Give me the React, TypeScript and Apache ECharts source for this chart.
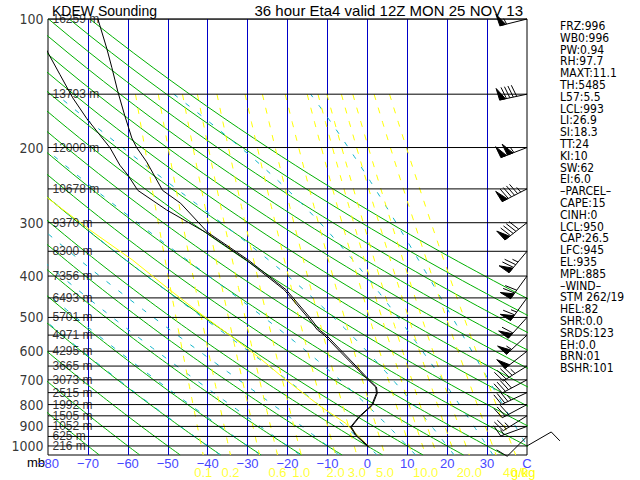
import React, { useEffect, useRef } from "react";
import * as echarts from "echarts";

// ---------- data ----------
const PRESSURE_LABELS = [100, 200, 300, 400, 500, 600, 700, 800, 900, 1000];
const LEVELS = [100, 150, 200, 250, 300, 350, 400, 450, 500, 550, 600, 650, 700, 750, 800, 850, 900, 950, 1000];
const HEIGHTS = [16259, 13793, 12000, 10678, 9370, 8300, 7356, 6493, 5701, 4971, 4295, 3665, 3073, 2515, 1992, 1505, 1052, 625, 216];

const TEMP_P = [100, 117, 130, 148, 168, 190, 200, 216, 252, 270, 316, 367, 431, 499, 535, 550, 619, 693, 728, 752, 802, 856, 903, 943, 1006];
const TEMP_C = [-67.5, -65.3, -64, -62.5, -60.8, -59, -57.8, -55.3, -51.3, -46.8, -40, -29.8, -20.3, -14.5, -12, -10.3, -5, 0, 2.3, 2.5, 1.3, -2, -4, -2.8, 0.5];

const DEW_P = [100, 120, 135, 153, 171, 187, 200, 220, 232, 252, 280, 316, 367, 431, 499, 535, 550, 619, 693, 728, 752, 802, 856, 903, 943, 1006];
const DEW_C = [-84.5, -80, -77, -73.8, -70.3, -67, -64.5, -62, -60, -57.5, -50.3, -40.5, -30.3, -20.8, -15, -12.5, -10.8, -5.5, -0.3, 2.1, 2.3, 1.1, -2.2, -4.2, -3, 0.3];

const PARCEL_P = [240, 263, 312, 367, 431, 494, 556, 622, 693, 772, 811, 884, 984, 1006];
const PARCEL_C = [-84, -80, -69.5, -58.8, -49.5, -41.3, -33.8, -27, -21, -14.5, -11.5, -5.5, -0.5, 0.5];

const WIND_P = [100, 150, 200, 250, 300, 350, 400, 450, 500, 550, 600, 650, 700, 750, 800, 850, 900, 950, 1000];
const WIND_DIR = [256, 258, 249, 243, 232, 220, 216, 216, 222, 227, 232, 238, 242, 245, 242, 238, 250, 225, 60];
const WIND_SPD = [55, 90, 105, 95, 90, 75, 70, 65, 60, 55, 50, 45, 40, 35, 30, 25, 15, 10, 10];

const DRY_THETA_C = [-70, -60, -50, -40, -30, -20, -10, 0, 10, 20, 30, 40, 50, 60, 70, 80, 90, 100, 110, 120];
const MOIST_THETAW_C = [-40, -30, -20, -10, 0, 10, 20, 30, 40];
const MIXING_RATIOS = [0.1, 0.2, 0.4, 0.6, 1, 2, 3, 5, 8, 10, 12, 16, 20, 30, 40];
const MIXING_LABELS = [0.1, 0.2, 0.6, 1, 2, 3, 5, 10, 20, 40];

const STATS = [
  "FRZ:996", "WB0:996", "PW:0.94", "RH:97.7", "MAXT:11.1", "TH:5485", "L57:5.5", "LCL:993",
  "LI:26.9", "SI:18.3", "TT:24", "KI:10", "SW:62", "EI:6.0", "\u2013PARCEL\u2013", "CAPE:15",
  "CINH:0", "LCL:950", "CAP:26.5", "LFC:945", "EL:935", "MPL:885", "\u2013WIND\u2013", "STM 262/19",
  "HEL:82", "SHR:0.0", "SRDS:123", "EH:0.0", "BRN:01", "BSHR:101",
];
const TITLE_LEFT = "KDEW Sounding";
const TITLE_RIGHT = "36 hour Eta4 valid 12Z MON 25 NOV 13";

// ---------- thermodynamic reference lines ----------
const dryAdiabat = (thetaC: number) => {
  const pts: number[][] = [];
  for (let p = 100; p <= 1050; p += 10) {
    pts.push([(thetaC + 273.15) * Math.pow(p / 1000, 0.2857) - 273.15, p]);
  }
  return pts;
};
const tdFromW = (p: number, w: number) => {
  const e = (w * p) / (622 + w);
  const l = Math.log(e / 6.112);
  return (243.5 * l) / (17.67 - l);
};
const mixingLine = (w: number) => {
  const pts: number[][] = [];
  for (let p = 150; p <= 1050; p += 25) pts.push([tdFromW(p, w), p]);
  return pts;
};
const lapse = (T: number, p: number) => {
  const es = 6.112 * Math.exp((17.67 * (T - 273.15)) / (T - 29.65));
  const rs = (0.622 * es) / (p - es);
  const Lv = 2.501e6;
  return (287.04 * T + Lv * rs) / (1005.7 + (Lv * Lv * rs * 0.622) / (287.04 * T * T)) / p;
};
const moistAdiabat = (twC: number) => {
  const up: number[][] = [];
  let T = twC + 273.15;
  for (let p = 1000; p >= 150; p -= 1) {
    if (p % 10 === 0) up.push([T - 273.15, p]);
    const k1 = lapse(T, p);
    const k2 = lapse(T - 0.5 * k1, p - 0.5);
    T -= k2;
  }
  const down: number[][] = [];
  T = twC + 273.15;
  for (let p = 1000; p <= 1050; p += 1) {
    if (p % 10 === 0 && p > 1000) down.push([T - 273.15, p]);
    const k1 = lapse(T, p);
    const k2 = lapse(T + 0.5 * k1, p + 0.5);
    T += k2;
  }
  return down.reverse().concat(up);
};

const NARROW = '"Liberation Sans Narrow", "DejaVu Sans Condensed", "Liberation Sans", sans-serif';
const SANS = '"Liberation Sans", Arial, sans-serif';

export default function App() {
  const ref = useRef<HTMLDivElement>(null);
  useEffect(() => {
    if (!ref.current) return;
    const chart = echarts.init(ref.current, undefined, { renderer: "svg" });
    const series: any[] = [];

    DRY_THETA_C.forEach((th) =>
      series.push({
        type: "line", data: dryAdiabat(th), showSymbol: false, silent: true, z: 2,
        lineStyle: { color: "#00b000", width: 1 },
      })
    );
    MOIST_THETAW_C.forEach((tw) =>
      series.push({
        type: "line", data: moistAdiabat(tw), showSymbol: false, silent: true, z: 2,
        lineStyle: { color: "#10b4c8", width: 1, type: [5, 10] },
      })
    );
    MIXING_RATIOS.forEach((w) =>
      series.push({
        type: "line", data: mixingLine(w), showSymbol: false, silent: true, z: 2,
        lineStyle: { color: "#ffff00", width: 1, type: [6, 8] },
      })
    );
    LEVELS.forEach((p) =>
      series.push({
        type: "line", data: [[-80, p], [40, p]], showSymbol: false, silent: true, z: 3,
        lineStyle: { color: "#000", width: 1 },
      })
    );
    series.push({
      type: "line", data: PARCEL_P.map((p, i) => [PARCEL_C[i], p]), showSymbol: false, silent: true, z: 4,
      lineStyle: { color: "#ffff00", width: 1 },
    });
    series.push({
      type: "line", data: DEW_P.map((p, i) => [DEW_C[i], p]), showSymbol: false, silent: true, z: 5,
      lineStyle: { color: "#000", width: 1 },
    });
    series.push({
      type: "line", data: TEMP_P.map((p, i) => [TEMP_C[i], p]), showSymbol: false, silent: true, z: 5,
      lineStyle: { color: "#000", width: 1 },
    });
    // pressure labels
    series.push({
      type: "scatter", clip: false, silent: true, symbolSize: 1, z: 6,
      itemStyle: { color: "rgba(0,0,0,0)" },
      data: PRESSURE_LABELS.map((p) => [-80, p]),
      label: {
        show: true, position: "left", distance: 4, color: "#000",
        fontFamily: NARROW, fontSize: 14, formatter: (d: any) => String(d.value[1]),
      },
    });
    // height labels
    series.push({
      type: "scatter", clip: false, silent: true, symbolSize: 1, z: 6,
      itemStyle: { color: "rgba(0,0,0,0)" },
      data: LEVELS.map((p, i) => [-80, p, HEIGHTS[i]]),
      label: {
        show: true, position: "right", distance: 4, color: "#000",
        fontFamily: SANS, fontSize: 12, formatter: (d: any) => `${d.value[2]} m`,
      },
    });
    // mixing ratio labels
    series.push({
      type: "scatter", clip: false, silent: true, symbolSize: 1, z: 6,
      itemStyle: { color: "rgba(0,0,0,0)" },
      data: MIXING_LABELS.map((w) => [tdFromW(1050, w), 1050, w]),
      label: {
        show: true, position: "bottom", distance: 10, color: "#ffff00",
        fontFamily: SANS, fontSize: 13, formatter: (d: any) => Number(d.value[2]).toFixed(1),
      },
    });
    // wind barbs
    series.push({
      type: "custom", silent: true, z: 7, clip: false,
      data: WIND_P.map((p, i) => [40, p, WIND_DIR[i], WIND_SPD[i]]),
      encode: { x: 0, y: 1 },
      renderItem: (_params: any, api: any) => {
        const o = api.coord([api.value(0), api.value(1)]);
        const rad = (api.value(2) * Math.PI) / 180;
        const ux = Math.sin(rad), uy = -Math.cos(rad);
        const px = -uy, py = ux;
        const L = 28, bl = 12;
        const at = (d: number) => [o[0] + ux * d, o[1] + uy * d];
        const st = { stroke: "#000", lineWidth: 1 };
        const children: any[] = [];
        const tip = at(L);
        children.push({ type: "line", shape: { x1: o[0], y1: o[1], x2: tip[0], y2: tip[1] }, style: st });
        let s = Math.round(api.value(3) / 5) * 5;
        let pos = L;
        while (s >= 50) {
          const a = at(pos), b = at(pos - 6);
          children.push({
            type: "polygon",
            shape: { points: [a, [a[0] + px * bl + ux * 1, a[1] + py * bl + uy * 1], b] },
            style: { fill: "#000", stroke: "#000", lineWidth: 1 },
          });
          pos -= 7; s -= 50;
        }
        while (s >= 10) {
          const a = at(pos);
          children.push({
            type: "line",
            shape: { x1: a[0], y1: a[1], x2: a[0] + px * bl + ux * 3, y2: a[1] + py * bl + uy * 3 },
            style: st,
          });
          pos -= 3.5; s -= 10;
        }
        if (s >= 5) {
          const a = at(pos);
          children.push({
            type: "line",
            shape: { x1: a[0], y1: a[1], x2: a[0] + px * bl * 0.5 + ux * 1.5, y2: a[1] + py * bl * 0.5 + uy * 1.5 },
            style: st,
          });
        }
        return { type: "group", children };
      },
    });

    const graphic: any[] = [
      { type: "text", x: 52, y: 18, style: { text: TITLE_LEFT, fill: "#000", font: `14px ${SANS}`, verticalAlign: "bottom", align: "left" } },
      { type: "text", x: 523, y: 18, style: { text: TITLE_RIGHT, fill: "#000", font: `15px ${SANS}`, verticalAlign: "bottom", align: "right" } },
      { type: "text", x: 27, y: 462, style: { text: "mb", fill: "#000", font: `13px ${SANS}`, verticalAlign: "middle", align: "left" } },
      { type: "text", x: 511, y: 472, style: { text: "g/kg", fill: "#ffff00", font: `13px ${SANS}`, verticalAlign: "middle", align: "left" } },
      ...STATS.map((s, i) => ({
        type: "text", x: 560, y: 26 + i * 11.8,
        style: { text: s, fill: "#000", font: `12px ${NARROW}`, verticalAlign: "middle", align: "left" },
      })),
    ];

    chart.setOption({
      animation: false,
      backgroundColor: "#fff",
      grid: { left: 48, top: 19, right: 113, bottom: 25, show: true, borderColor: "#000", borderWidth: 1, backgroundColor: "transparent" },
      xAxis: {
        type: "value", min: -80, max: 40, interval: 10,
        axisLine: { show: false }, axisTick: { show: false },
        axisLabel: {
          color: "#4646ff", fontFamily: SANS, fontSize: 13, margin: 2,
          formatter: (v: number) => (v === 40 ? "C" : v < 0 ? "\u2212" + Math.abs(v) : String(v)),
        },
        splitLine: { show: true, showMinLine: false, showMaxLine: false, lineStyle: { color: "#0000c8", width: 1 } },
      },
      yAxis: {
        type: "log", logBase: 10, inverse: true, min: 100, max: 1050,
        axisLine: { show: false }, axisTick: { show: false }, axisLabel: { show: false }, splitLine: { show: false },
      },
      series,
      graphic,
    });
    return () => chart.dispose();
  }, []);
  return <div ref={ref} style={{ position: "fixed", left: 0, top: 0, width: 640, height: 480 }} />;
}
